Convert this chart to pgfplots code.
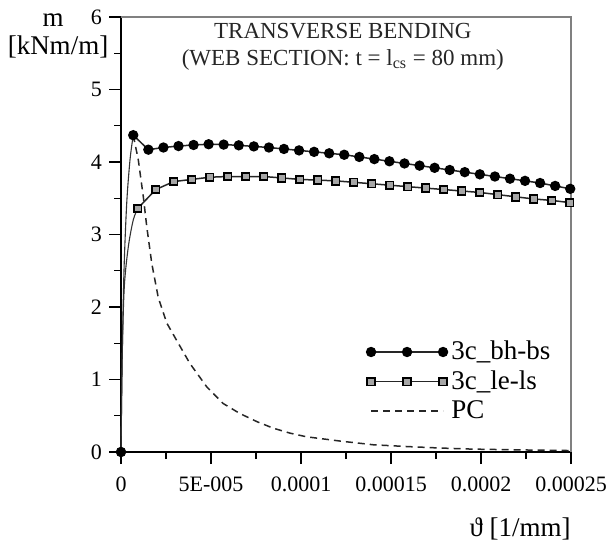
\documentclass[border=0pt]{standalone}
\usepackage{fontspec}
\setmainfont{Liberation Serif}
\usepackage{pgfplots}
\pgfplotsset{compat=1.18}

\begin{document}
\begin{tikzpicture}
\begin{axis}[
  scale only axis, width=225pt, height=217.5pt,
  xmin=0, xmax=0.00025, ymin=0, ymax=6,
  axis lines=left, axis line style={-, line width=0.9pt},
  xtick={0,0.00005,0.0001,0.00015,0.0002,0.00025},
  xticklabels={0,5E-005,0.0001,0.00015,0.0002,0.00025},
  scaled x ticks=false,
  ytick={0,1,2,3,4,5,6},
  minor x tick num=1, minor y tick num=1,
  tick align=outside, major tick length=6pt, minor tick length=3.5pt,
  tick style={black, line width=0.7pt},
  x tick label style={font=\fontsize{11}{13}\selectfont, yshift=-3pt},
  y tick label style={font=\fontsize{11}{13}\selectfont},
  /pgf/number format/assume math mode=true,
  clip=false,
  legend style={draw=none, fill=none, at={(rel axis cs:0.545,0.265)}, anchor=north west,
    font=\fontsize{13.5}{15.5}\selectfont, inner sep=0pt},
  legend cell align=left,
  legend image code/.code={\draw[mark repeat=1] plot coordinates {(0pt,0pt) (18pt,0pt) (36pt,0pt)};},
]
% rising branches (no marks)
\addplot[forget plot, black!80, line width=0.55pt, smooth] coordinates {(0,0)(0.72e-6,1.37)(1.67e-6,2.51)(3.17e-6,3.43)(5e-6,4.03)(6.8e-6,4.37)};
\addplot[forget plot, black!80, line width=0.55pt, smooth] coordinates {(0,0)(0.72e-6,1.37)(1.83e-6,2.28)(4.06e-6,2.83)(6.8e-6,3.2)(9.3e-6,3.36)};

\addplot[black!85, line width=0.75pt, mark=*, mark size=2.2pt, mark options={fill=black, draw=black}] coordinates {
(6.8e-6,4.37)(1.520e-5,4.17)(2.357e-5,4.20)(3.194e-5,4.22)(4.031e-5,4.235)(4.868e-5,4.245)
(5.705e-5,4.24)(6.542e-5,4.23)(7.379e-5,4.215)(8.216e-5,4.20)(9.053e-5,4.18)(9.890e-5,4.16)
(1.0727e-4,4.14)(1.1564e-4,4.12)(1.2401e-4,4.10)(1.3238e-4,4.07)(1.4075e-4,4.04)(1.4912e-4,4.01)
(1.5749e-4,3.98)(1.6586e-4,3.95)(1.7423e-4,3.92)(1.8260e-4,3.89)(1.9097e-4,3.86)(1.9934e-4,3.83)
(2.0771e-4,3.80)(2.1608e-4,3.77)(2.2445e-4,3.74)(2.3282e-4,3.71)(2.4119e-4,3.67)(2.4956e-4,3.63)};
\addlegendentry{3c\_bh-bs}

\addplot[black!85, line width=0.75pt, mark=square*, mark size=1.9pt, mark options={fill=black!35, draw=black, line width=0.9pt}] coordinates {
(0.93e-5,3.36)(1.93e-5,3.62)(2.93e-5,3.73)(3.93e-5,3.76)(4.93e-5,3.79)(5.93e-5,3.80)(6.93e-5,3.80)
(7.93e-5,3.80)(8.93e-5,3.78)(9.93e-5,3.76)(1.093e-4,3.75)(1.193e-4,3.74)(1.293e-4,3.72)(1.393e-4,3.70)
(1.493e-4,3.68)(1.593e-4,3.66)(1.693e-4,3.64)(1.793e-4,3.62)(1.893e-4,3.60)(1.993e-4,3.58)
(2.093e-4,3.55)(2.193e-4,3.52)(2.293e-4,3.49)(2.393e-4,3.47)(2.493e-4,3.44)};
\addlegendentry{3c\_le-ls}

\addplot[black!85, line width=0.75pt, dash pattern=on 3.5pt off 2.5pt] coordinates {
(0.68e-5,4.37)(0.96e-5,4.03)(1.24e-5,3.52)(1.43e-5,3.11)(1.71e-5,2.60)(2.07e-5,2.13)(2.54e-5,1.78)
(3.09e-5,1.54)(3.83e-5,1.22)(4.76e-5,0.90)(5.67e-5,0.67)(6.61e-5,0.53)(7.54e-5,0.42)(8.44e-5,0.33)
(9.39e-5,0.26)(10.3e-5,0.21)(12.2e-5,0.15)(14.0e-5,0.10)(15.9e-5,0.075)(17.7e-5,0.055)
(19.5e-5,0.040)(21.4e-5,0.032)(23.3e-5,0.025)(25.0e-5,0.02)};
\addlegendentry{PC}

\addplot[forget plot, only marks, mark=*, mark size=2.4pt] coordinates {(0,0)};

\draw[black!50, line width=0.9pt] (rel axis cs:0,1) -- (rel axis cs:1,1) -- (rel axis cs:1,0);

\node[font=\fontsize{13.5}{16}\selectfont] at (rel axis cs:-0.151,0.993) {m};
\node[font=\fontsize{13.5}{16}\selectfont] at (rel axis cs:-0.14,0.931) {[kNm/m]};
\node[font=\fontsize{13.5}{16}\selectfont] at (rel axis cs:0.887,-0.177) {ϑ [1/mm]};
\node[align=center, font=\fontsize{11.5}{13.5}\selectfont, black!85] at (rel axis cs:0.493,0.932)
  {TRANSVERSE BENDING\\(WEB SECTION: t = l\textsubscript{cs} = 80 mm)};

\coordinate (bl) at (rel axis cs:-0.2689,-0.2115);
\coordinate (tr) at (rel axis cs:1.0933,1.0391);
\end{axis}
\pgfresetboundingbox
\path[use as bounding box] (bl) rectangle (tr);
\end{tikzpicture}
\end{document}
